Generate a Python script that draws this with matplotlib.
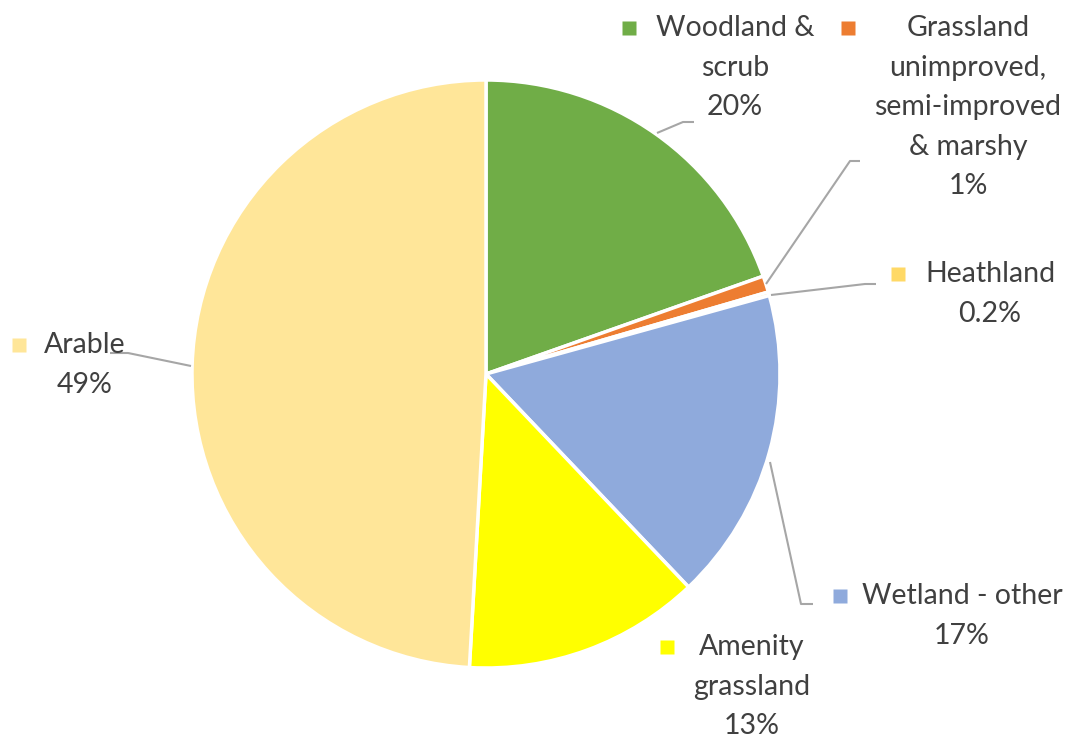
import matplotlib
matplotlib.use('Agg')
import matplotlib.pyplot as plt

# ----------------------------------------------------------
# data
# ----------------------------------------------------------
habitats = ['Woodland & scrub', 'Grassland unimproved, semi-improved & marshy',
            'Heathland', 'Wetland - other', 'Amenity grassland', 'Arable']
shares = [19.6, 0.9, 0.2, 17.2, 13.0, 49.1]
pct_labels = ['20%', '1%', '0.2%', '17%', '13%', '49%']
label_lines = [['Woodland &', 'scrub'],
               ['Grassland', 'unimproved,', 'semi-improved', '& marshy'],
               ['Heathland'],
               ['Wetland - other'],
               ['Amenity', 'grassland'],
               ['Arable']]
colors = ['#70AD47', '#ED7D31', '#FFD966', '#8FAADC', '#FFFF00', '#FFE699']

# label layout in pixels (top-left origin): square x, text centre x, first line y
label_pos = [(629, 735, 28), (848, 968, 28), (898, 990, 274),
             (840, 962, 596), (667, 752, 647), (19, 85, 345)]
# leader lines (pixel coords)
leaders = [[(657, 133), (683, 122), (694, 122)],
           [(766, 284), (850, 161), (860, 161)],
           [(771, 295), (865, 284), (876, 284)],
           [(770, 462), (801, 604), (813, 604)],
           [(191, 366), (128, 353), (110, 353)]]

W, H = 1070, 735
txt_color = '#404040'
line_step = 39.5

# ----------------------------------------------------------
# main
# ----------------------------------------------------------
fig = plt.figure(figsize=(W / 100, H / 100), dpi=100)
ax = fig.add_axes([0, 0, 1, 1])
ax.set_xlim(0, W)
ax.set_ylim(0, H)
ax.axis('off')

ax.pie(shares, colors=colors, startangle=90, counterclock=False,
       center=(486, H - 374), radius=294,
       wedgeprops=dict(edgecolor='white', linewidth=2.5))
ax.set_xlim(0, W)
ax.set_ylim(0, H)
ax.set_aspect('equal')

for i, name in enumerate(habitats):
    sq_x, cx, y0 = label_pos[i]
    ax.plot(sq_x, H - y0, marker='s', ms=10, color=colors[i], mec='none')
    lines = label_lines[i] + [pct_labels[i]]
    for j, ln in enumerate(lines):
        ax.text(cx, H - (y0 + j * line_step), ln, ha='center', va='center',
                fontsize=20.5, color=txt_color, family=['Lato', 'DejaVu Sans'])

for pts in leaders:
    xs = [p[0] for p in pts]
    ys = [H - p[1] for p in pts]
    ax.plot(xs, ys, color='#A6A6A6', lw=1.5, solid_capstyle='butt')

fig.savefig('out.png', dpi=100)
